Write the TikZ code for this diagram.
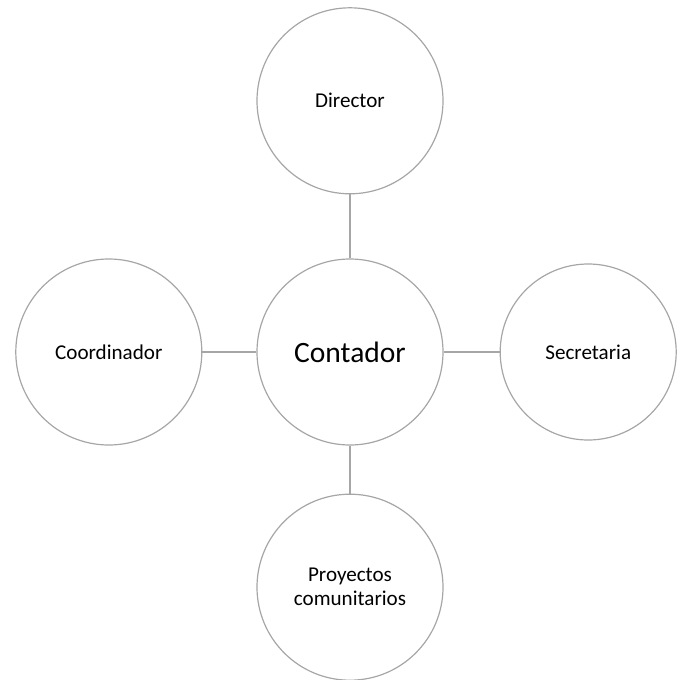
\documentclass[tikz,border=0pt]{standalone}
\usepackage{fontspec}
\setmainfont{Carlito}
\usetikzlibrary{positioning}

\begin{document}
\begin{tikzpicture}
[x=0.25mm,y=-0.25mm,
 circ/.style={circle,draw=black!35,line width=0.3mm,minimum size=46.5mm,inner sep=0pt,align=center,font=\fontsize{15}{17}\selectfont},
 link/.style={draw=black!35,line width=0.5mm}]
\useasboundingbox (0,0) rectangle (682,680);
%% centre
\node[circ,font=\fontsize{21}{24}\selectfont] (Contador) at (350,352) {Contador};
%% around it
\node[circ,node distance=16mm,above=of Contador] (Director) {Director};
\node[circ,node distance=13.5mm,left=of Contador] (Coordinador) {Coordinador};
\node[circ,node distance=14mm,right=of Contador,minimum size=44mm] (Secretaria) {Secretaria};
\node[circ,node distance=12mm,below=of Contador] (Proyectos) {Proyectos\\comunitarios};
%% edges
\draw[link] (Contador) -- (Director);
\draw[link] (Contador) -- (Coordinador);
\draw[link] (Contador) -- (Secretaria);
\draw[link] (Contador) -- (Proyectos);
\end{tikzpicture}
\end{document}
